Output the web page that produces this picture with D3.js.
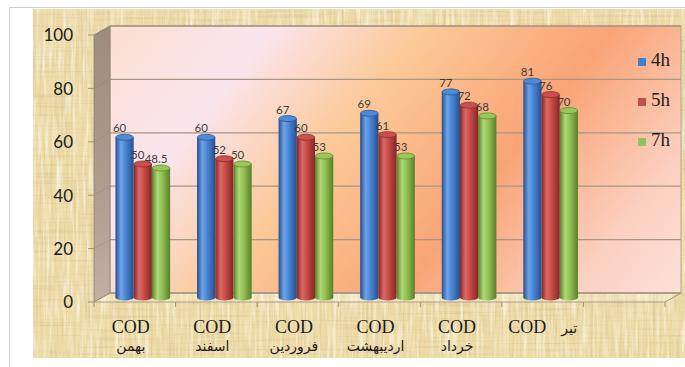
<!DOCTYPE html>
<html>
<head>
<meta charset="utf-8">
<script src="https://cdn.jsdelivr.net/npm/d3@7"></script>
<style>
  html, body { margin: 0; padding: 0; background: #ffffff; }
  svg { display: block; }
  .cat-label { white-space: pre; }
  .serif { font-family: "Liberation Serif", "Times New Roman", serif; }
</style>
</head>
<body>
<div id="chart"></div>
<script>
// COD removal by month for three contact times
const categories = ["بهمن", "اسفند", "فروردین", "اردیبهشت", "خرداد", "تیر"];
const seriesNames = ["4h", "5h", "7h"];
const values4h = [60, 60, 67, 69, 77, 81];
const values5h = [50, 52, 60, 61, 72, 76];
const values7h = [48.5, 50, 53, 53, 68, 70];
const yTicks = [0, 20, 40, 60, 80, 100];
const labelPrefix = "COD";

const seriesValues = [values4h, values5h, values7h];
const seriesColors = {
  "4h": { dark: "#25508f", mid: "#4a86d6", light: "#6fa3e8", top: "#4f8ad6", stroke: "#2b5796", key: "#3f7fd0" },
  "5h": { dark: "#862624", mid: "#c84c48", light: "#db6a66", top: "#c9504c", stroke: "#8e2e2b", key: "#c0504d" },
  "7h": { dark: "#577f28", mid: "#93c254", light: "#afd877", top: "#98c85a", stroke: "#5f8a2f", key: "#92c35a" }
};

const W = 685, H = 367;
const depth = { dx: 16, dy: -9 };
const slotCount = categories.length + 1;

const svg = d3.select("#chart").append("svg")
  .attr("width", W).attr("height", H);
const defs = svg.append("defs");

// papyrus fibres: vertical and horizontal noise streaks
function fibreFilter(id, freq, seed, rgb, gain, offset) {
  const f = defs.append("filter").attr("id", id)
    .attr("x", 0).attr("y", 0).attr("width", "100%").attr("height", "100%");
  f.append("feTurbulence").attr("type", "fractalNoise")
    .attr("baseFrequency", freq).attr("numOctaves", 3).attr("seed", seed);
  f.append("feColorMatrix").attr("type", "matrix").attr("values",
    `0 0 0 0 ${rgb[0]}  0 0 0 0 ${rgb[1]}  0 0 0 0 ${rgb[2]}  ${gain} 0 0 0 ${offset}`);
}
fibreFilter("fibV", "0.45 0.012", 4, [0.66, 0.52, 0.28], 1.5, -0.74);
fibreFilter("fibH", "0.012 0.45", 9, [0.66, 0.52, 0.28], 1.5, -0.76);
fibreFilter("fibL", "0.3 0.025", 13, [1, 0.97, 0.86], 1.6, -0.7);

// back wall colour sweep
const wallGrad = defs.append("linearGradient").attr("id", "wallGrad")
  .attr("gradientUnits", "userSpaceOnUse")
  .attr("x1", 120).attr("y1", 0).attr("x2", 640).attr("y2", 420);
[[0, "#fbdfcf"], [0.2, "#fbe5ee"], [0.38, "#fcc998"], [0.6, "#f9a476"], [0.8, "#fcd0c0"], [1, "#fde9ea"]]
  .forEach(([o, c]) => wallGrad.append("stop").attr("offset", o).attr("stop-color", c));

const sideGrad = defs.append("linearGradient").attr("id", "sideGrad")
  .attr("x1", 0).attr("y1", 0).attr("x2", 0).attr("y2", 1);
[[0, "#9c8c7e"], [0.6, "#b09c90"], [1, "#c4aea6"]]
  .forEach(([o, c]) => sideGrad.append("stop").attr("offset", o).attr("stop-color", c));

// cylinder shading per series
seriesNames.forEach(s => {
  const c = seriesColors[s];
  const g = defs.append("linearGradient").attr("id", "cyl-" + s)
    .attr("x1", 0).attr("y1", 0).attr("x2", 1).attr("y2", 0);
  [[0, c.dark], [0.3, c.light], [0.55, c.mid], [1, c.dark]]
    .forEach(([o, col]) => g.append("stop").attr("offset", o).attr("stop-color", col));
});

// outer frame
svg.append("line").attr("x1", 9).attr("x2", W).attr("y1", 7.5).attr("y2", 7.5)
  .attr("stroke", "#cfcfcf");
svg.append("line").attr("x1", 9.5).attr("x2", 9.5).attr("y1", 7).attr("y2", H)
  .attr("stroke", "#cfcfcf");

// papyrus sheet
const paper = { x: 33, y: 9, w: W - 33, h: 349 };
svg.append("rect").attr("x", paper.x).attr("y", paper.y).attr("width", paper.w).attr("height", paper.h)
  .attr("fill", "#eddaa6");
["fibV", "fibH", "fibL"].forEach(id =>
  svg.append("rect").attr("x", paper.x).attr("y", paper.y).attr("width", paper.w).attr("height", paper.h)
    .attr("fill", "#000").attr("filter", `url(#${id})`));

// scales
const xFront = d3.scaleBand().domain(d3.range(slotCount)).range([94, 665]);
const yFront = d3.scaleLinear().domain([0, 100]).range([302, 35]);
const slotW = xFront.bandwidth();
const xInner = d3.scaleBand().domain(seriesNames).range([slotW * 0.165, slotW * 0.835]);

const x0 = xFront.range()[0], x1 = xFront.range()[1];
const yTop = yFront(100), yBase = yFront(0);

// back wall
svg.append("rect")
  .attr("x", x0 + depth.dx).attr("y", yTop + depth.dy)
  .attr("width", x1 - x0).attr("height", yBase - yTop)
  .attr("fill", "url(#wallGrad)").attr("stroke", "#b4a48a").attr("stroke-width", 1);

// side wall
svg.append("polygon")
  .attr("points", [[x0, yTop], [x0 + depth.dx, yTop + depth.dy], [x0 + depth.dx, yBase + depth.dy], [x0, yBase]].join(" "))
  .attr("fill", "url(#sideGrad)").attr("stroke", "#8f8274").attr("stroke-width", 0.8);

// floor
svg.append("polygon")
  .attr("points", [[x0, yBase], [x0 + depth.dx, yBase + depth.dy], [x1 + depth.dx, yBase + depth.dy], [x1, yBase]].join(" "))
  .attr("fill", "rgba(255,250,235,0.25)").attr("stroke", "#a89c8a").attr("stroke-width", 1);

// gridlines across the back wall and side wall
yTicks.forEach(t => {
  const y = yFront(t);
  svg.append("line")
    .attr("x1", x0 + depth.dx).attr("x2", x1 + depth.dx)
    .attr("y1", y + depth.dy).attr("y2", y + depth.dy)
    .attr("stroke", "#a69684").attr("stroke-width", 1.3);
  svg.append("line")
    .attr("x1", x0).attr("x2", x0 + depth.dx)
    .attr("y1", y).attr("y2", y + depth.dy)
    .attr("stroke", "#8d7f70").attr("stroke-width", 0.8).attr("opacity", 0.5);
  // axis tick
  svg.append("line").attr("x1", x0 - 6).attr("x2", x0).attr("y1", y).attr("y2", y)
    .attr("stroke", "#a09080").attr("stroke-width", 1);
});

// y axis labels
svg.append("g").selectAll("text").data(yTicks).join("text")
  .attr("x", 73).attr("y", d => yFront(d) + 2)
  .attr("text-anchor", "end").attr("dominant-baseline", "middle")
  .attr("font-family", "Lato, 'Open Sans', sans-serif").attr("font-size", 17)
  .attr("fill", "#1a1a1a")
  .text(d => d);

// x axis ticks at slot boundaries on the front edge
svg.append("g").selectAll("line").data(d3.range(slotCount + 1)).join("line")
  .attr("x1", d => x0 + d * slotW).attr("x2", d => x0 + d * slotW)
  .attr("y1", yBase).attr("y2", yBase + 5)
  .attr("stroke", "#a09080").attr("stroke-width", 1);

// cylinders, drawn at mid depth
const barRows = [];
categories.forEach((cat, i) => {
  seriesNames.forEach((s, j) => {
    barRows.push({ i, s, v: seriesValues[j][i] });
  });
});
const yMid = v => yFront(v) + depth.dy / 2;
const bw = xInner.bandwidth();
const ry = 3;

const bars = svg.append("g").selectAll("g").data(barRows).join("g")
  .attr("transform", d => `translate(${xFront(d.i) + depth.dx / 2 + xInner(d.s)},0)`);
bars.append("ellipse")
  .attr("cx", bw / 2).attr("cy", yMid(0)).attr("rx", bw / 2).attr("ry", ry)
  .attr("fill", d => `url(#cyl-${d.s})`);
bars.append("rect")
  .attr("x", 0).attr("width", bw)
  .attr("y", d => yMid(d.v)).attr("height", d => yMid(0) - yMid(d.v))
  .attr("fill", d => `url(#cyl-${d.s})`);
bars.append("ellipse")
  .attr("cx", bw / 2).attr("cy", d => yMid(d.v)).attr("rx", bw / 2 - 0.3).attr("ry", ry)
  .attr("fill", d => seriesColors[d.s].top)
  .attr("stroke", d => seriesColors[d.s].stroke).attr("stroke-width", 0.8);

// value labels
bars.append("text")
  .attr("x", bw / 2 - 5).attr("y", d => yMid(d.v) - 5)
  .attr("text-anchor", "middle")
  .attr("font-family", "Lato, 'Open Sans', sans-serif").attr("font-size", 11.5)
  .attr("fill", "#3c3c3c")
  .text(d => d.v);

// category labels
const lastIdx = categories.length - 1;
const catG = svg.append("g").selectAll("text").data(categories).join("text")
  .attr("class", "cat-label")
  .attr("text-anchor", "middle")
  .attr("fill", "#1c1c1c");
catG.each(function (cat, i) {
  const t = d3.select(this);
  const cx = xFront(i) + slotW / 2 - 4;
  if (i === lastIdx) {
    t.attr("x", cx + 4).attr("y", 333);
    t.append("tspan").attr("class", "serif").attr("font-size", 18)
      .text(labelPrefix);
    t.append("tspan").attr("dx", 15)
      .attr("font-family", "'DejaVu Sans', sans-serif").attr("font-size", 14)
      .text(cat);
  } else {
    t.append("tspan").attr("class", "serif").attr("x", cx).attr("y", 333).attr("font-size", 18)
      .text(labelPrefix);
    t.append("tspan").attr("x", cx).attr("y", 351)
      .attr("font-family", "'DejaVu Sans', sans-serif").attr("font-size", 14)
      .text(cat);
  }
});

// legend
const legend = svg.append("g").selectAll("g").data(seriesNames).join("g")
  .attr("transform", (d, k) => `translate(638,${62 + k * 40})`);
legend.append("rect").attr("x", 0).attr("y", -4).attr("width", 8).attr("height", 8)
  .attr("fill", d => seriesColors[d].key);
legend.append("text").attr("class", "serif").attr("x", 13).attr("y", 0)
  .attr("dominant-baseline", "middle")
  .attr("font-size", 19)
  .attr("fill", "#1c1c1c")
  .text(d => d);
</script>
</body>
</html>
